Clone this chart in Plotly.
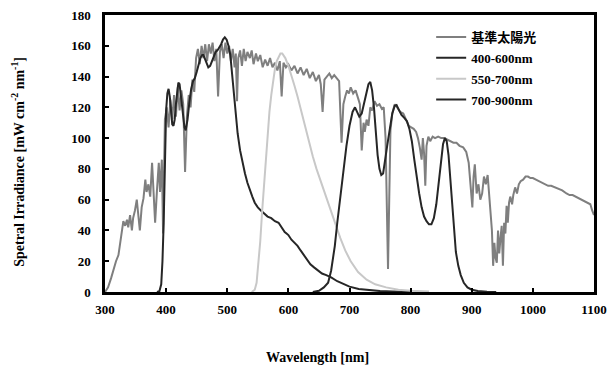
import plotly.graph_objects as go

# Reference solar spectrum (基準太陽光)
sun_nm = [300, 305, 310, 314, 318, 322, 325, 328, 330, 333, 336, 338, 341, 344, 346, 349, 352, 354, 357, 360,
          363, 366, 368, 371, 374, 377, 379, 382, 385, 388, 390, 393, 395, 398, 401, 404, 407, 410, 413, 416,
          419, 422, 425, 428, 431, 434, 437, 440, 443, 446, 449, 452, 455, 458, 461, 464, 467, 470, 473, 476,
          479, 482, 485, 488, 491, 494, 497, 500, 503, 506, 509, 512, 514, 516, 518, 521, 524, 527, 530, 533,
          537, 540, 543, 547, 550, 554, 558, 562, 566, 570, 574, 578, 582, 586, 589, 592, 596, 600, 605, 610,
          615, 620, 625, 630, 635, 640, 645, 650, 653, 656, 659, 663, 667, 671, 675, 679, 683, 687, 690, 693,
          696, 699, 702, 706, 710, 714, 717, 720, 723, 725, 728, 731, 734, 737, 741, 745, 749, 753, 756, 759,
          761, 763, 765, 767, 770, 774, 778, 783, 788, 793, 797, 801, 805, 809, 812, 815, 818, 820, 822, 824,
          826, 829, 832, 836, 840, 845, 850, 855, 860, 865, 870, 875, 880, 886, 891, 895, 897, 899, 901, 903,
          905, 908, 911, 914, 917, 920, 923, 926, 929, 931, 933, 935, 937, 939, 941, 943, 945, 947, 949, 951,
          953, 955, 957, 959, 961, 963, 966, 968, 971, 974, 977, 980, 984, 988, 992, 996, 1000, 1005, 1010, 1015,
          1020, 1025, 1030, 1036, 1042, 1048, 1055, 1060, 1065, 1070, 1075, 1080, 1085, 1090, 1094, 1097, 1100]
sun_val = [0, 3, 9, 15, 20, 24, 32, 41, 46, 43, 47, 42, 50, 40, 48, 53, 60, 52, 40, 55,
           61, 73, 65, 70, 62, 84, 68, 45, 66, 84, 65, 86, 38, 112, 120, 107, 125, 112, 128, 114,
           133, 118, 131, 122, 78, 114, 128, 120, 138, 130, 152, 158, 148, 160, 152, 161, 150, 161, 155, 162,
           150, 158, 127, 156, 161, 152, 162, 155, 160, 150, 158, 146, 155, 124, 152, 157, 147, 158, 150, 156,
           152, 157, 148, 155, 150, 154, 146, 151, 147, 152, 146, 149, 144, 150, 127, 149, 146, 148, 144, 147,
           142, 146, 141, 145, 139, 143, 137, 141, 135, 117, 138, 140, 142, 139, 141, 139, 137, 97, 122, 127,
           131, 129, 133, 129, 131, 126, 122, 92, 110, 104, 112, 108, 120, 118, 124, 121, 122, 119, 120, 100,
           40, 15, 60, 105, 116, 122, 120, 117, 116, 112, 108, 107, 106, 104, 100, 94, 86, 100, 90, 69,
           95, 101, 98, 101, 100, 101, 100, 100, 99, 98, 97, 97, 95, 94, 91, 84, 72, 62, 55, 75,
           83, 64, 70, 60, 64, 75, 70, 76, 60, 48, 40, 17, 32, 22, 19, 40, 25, 35, 43, 17,
           45, 38, 56, 45, 58, 62, 57, 63, 68, 64, 70, 72, 73, 75, 75, 74, 74, 73, 72, 71,
           70, 69, 69, 68, 67, 66, 64, 63, 63, 62, 61, 60, 59, 58, 57, 53, 50]

# 400-600 nm source
blue_nm = [385, 389, 392, 394, 396, 398, 400, 402, 404, 406, 408, 410, 412, 414, 416, 418, 420, 422, 424, 427,
           430, 432, 435, 438, 441, 444, 447, 450, 453, 456, 459, 461, 464, 467, 469, 472, 475, 478, 481, 484,
           487, 490, 493, 496, 499, 502, 505, 508, 511, 514, 517, 521, 525, 529, 533, 537, 541, 545, 550, 555,
           560, 566, 572, 578, 584, 590, 594, 597, 600, 605, 610, 615, 620, 625, 630, 636, 642, 648, 655, 662,
           670, 680, 690, 700, 715, 730, 750, 770, 800]
blue_val = [0, 0.5, 5, 20, 45, 90, 118, 129, 132, 127, 116, 109, 108, 112, 122, 131, 136, 135, 128, 116,
            107, 105, 112, 123, 132, 137, 139, 143, 148, 152, 154, 154, 151, 147, 146, 147, 150, 153, 156, 157,
            159, 161, 164, 165.5, 164, 160, 154, 142, 127, 113, 103, 92, 84, 77, 71, 66, 62, 58, 55, 53,
            51, 49, 48, 46, 45, 41, 39, 38, 37, 34, 32, 30, 27, 24, 21, 18, 16, 14, 12, 11,
            9.5, 7, 5, 3.5, 2, 1.2, 0.6, 0.3, 0]

# 550-700 nm source
green_nm = [540, 545, 548, 551, 554, 557, 560, 563, 566, 569, 572, 575, 578, 581, 584, 587, 590, 595, 600, 605,
            610, 615, 620, 625, 630, 635, 640, 646, 652, 660, 668, 676, 685, 693, 702, 714, 728, 742, 760, 780,
            800, 830]
green_val = [0, 1.5, 6, 18, 33, 52, 70, 87, 103, 117, 128, 138, 145, 150, 153, 155, 155, 152, 147, 141,
             134, 127, 119, 111, 103, 95, 88, 80, 73, 65, 55, 45, 35, 27, 20, 13, 8, 5, 3, 1.5,
             0.8, 0.3]

# 700-900 nm source
red_nm = [640, 650, 658, 665, 670, 676, 680, 685, 690, 695, 700, 705, 709, 713, 716, 720, 724, 728, 731, 734,
          737, 740, 743, 746, 749, 752, 755, 758, 762, 766, 770, 774, 777, 780, 785, 790, 794, 798, 802, 806,
          810, 814, 818, 822, 826, 830, 834, 838, 842, 846, 850, 853, 856, 859, 862, 865, 868, 871, 874, 878,
          882, 887, 893, 900, 910, 925, 940]
red_val = [0, 0.8, 3, 6, 14, 30, 45, 63, 80, 95, 108, 117, 120, 117, 114, 116, 123, 130, 135, 136.5,
           131, 120, 103, 89, 80, 76, 77, 84, 96, 106, 116, 121, 121.5, 119, 115, 113, 111, 106, 98, 86,
           74, 64, 55, 49, 46, 44, 44, 48, 57, 72, 87, 96, 100, 98, 89, 74, 56, 39, 26, 17,
           11, 6, 3, 1.5, 0.6, 0.2, 0]

series = [
    ("基準太陽光", sun_nm, sun_val, "#7f7f7f"),
    ("400-600nm", blue_nm, blue_val, "#262626"),
    ("550-700nm", green_nm, green_val, "#c8c8c8"),
    ("700-900nm", red_nm, red_val, "#262626"),
]

SERIF = "Liberation Serif, 'Noto Sans CJK JP', serif"

fig = go.Figure()
for i, (name, xs, ys, color) in enumerate(series):
    fig.add_trace(go.Scatter(
        x=xs, y=ys, name=name, mode="lines", legendgroup=f"g{i}",
        line=dict(color=color, width=2),
    ))

axis_common = dict(
    showline=True, linecolor="black", linewidth=2.5, mirror=True,
    ticks="inside", ticklen=4, tickwidth=2, tickcolor="black",
    showgrid=False, zeroline=False, automargin=False,
    tickfont=dict(family=SERIF, size=13, color="black", weight="bold"),
)

fig.update_layout(
    width=609, height=367,
    margin=dict(l=105, r=15, t=15, b=75, autoexpand=False),
    paper_bgcolor="white", plot_bgcolor="white",
    xaxis=dict(range=[300, 1100], tick0=300, dtick=100, ticklabelstandoff=4, **axis_common),
    yaxis=dict(range=[0, 180], tick0=0, dtick=20, ticklabelstandoff=9, **axis_common),
    legend=dict(
        x=0.667, y=0.975, xanchor="left", yanchor="top",
        bgcolor="rgba(0,0,0,0)", itemwidth=30, tracegroupgap=1,
        font=dict(family=SERIF, size=13, color="black", weight="bold"),
    ),
    showlegend=True,
    annotations=[
        dict(text="Wavelength [nm]", xref="paper", yref="paper", x=0.435, y=-0.236,
             xanchor="center", yanchor="middle", showarrow=False,
             font=dict(family=SERIF, size=14, color="black", weight="bold")),
        dict(text="Spetral Irradiance [mW cm<sup>-2</sup> nm<sup>-1</sup>]", xref="paper", yref="paper",
             x=-0.178, y=0.47, xanchor="center", yanchor="middle", textangle=-90, showarrow=False,
             font=dict(family=SERIF, size=14, color="black", weight="bold")),
    ],
)

fig.write_html("out.html")
